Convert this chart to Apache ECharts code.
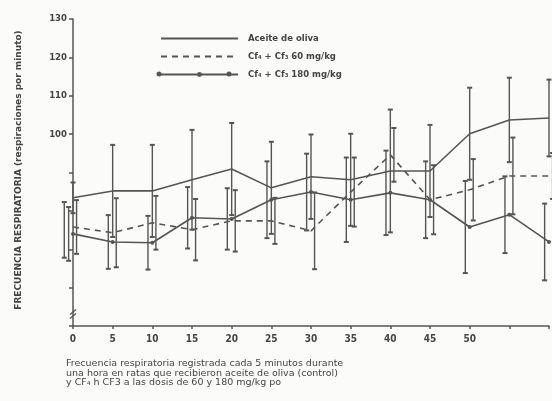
<!DOCTYPE html>
<html>
<head>
<meta charset="utf-8">
<script src="https://cdn.jsdelivr.net/npm/echarts@6/dist/echarts.min.js"></script>
<style>
  html, body { margin: 0; padding: 0; background: #fbfbf9; }
  #chart { width: 552px; height: 401px; }
</style>
</head>
<body>
<div id="chart"></div>
<script>
// minutos
const times = [0, 5, 10, 15, 20, 25, 30, 35, 40, 45, 50, 55, 60];
const xLabels = ['0', '5', '10', '15', '20', '25', '30', '35', '40', '45', '50'];

// respiraciones por minuto (media)
const aceite = [83.4, 85.2, 85.2, 88.1, 90.9, 86.0, 88.9, 88.1, 90.4, 90.4, 100.1, 103.7, 104.2];
const cf60   = [75.8, 74.3, 76.9, 75.1, 77.4, 77.4, 74.8, 84.9, 94.6, 82.9, 85.5, 89.1, 89.1];
const cf180  = [74.0, 71.9, 71.7, 78.2, 77.9, 82.9, 84.9, 82.9, 84.7, 82.9, 75.8, 79.0, 71.9];

// desviaciones (barras de error)
const aceiteSd = [4, 12, 12, 13, 12, 12, 11, 12, 16, 12, 12, 11, 10];
const cf60Sd   = [7, 9, 7, 8, 8, 6, 10, 9, 7, 9, 8, 10, 6];
const cf180Sd  = [7, 7, 7, 8, 8, 10, 10, 11, 11, 10, 12, 10, 10];

// valor basal
const basalTime = -1.1;
const basalLow = 67.8;
const basalHigh = 82.3;

const names = ['Aceite de oliva', 'Cf\u2084 + Cf\u2083 60 mg/kg', 'Cf\u2084 + Cf\u2083 180 mg/kg'];
const ink = '#555';
const font = '"DejaVu Sans", "Liberation Sans", sans-serif';
const fontNarrow = '"DejaVu Sans Condensed", "Liberation Sans", sans-serif';

function barData(mean, sd, shift) {
    let out = [];
    for (let i = 0; i < times.length; i++) {
        out.push([times[i] + shift, mean[i] - sd[i], mean[i] + sd[i]]);
    }
    return out;
}

function renderBar(params, api) {
    let x = api.value(0);
    let lo = api.coord([x, api.value(1)]);
    let hi = api.coord([x, api.value(2)]);
    let w = 2.5;
    return {
        type: 'group',
        children: [
            { type: 'line', shape: { x1: hi[0], y1: hi[1], x2: lo[0], y2: lo[1] }, style: { stroke: ink, lineWidth: 1.4 } },
            { type: 'line', shape: { x1: hi[0] - w, y1: hi[1], x2: hi[0] + w, y2: hi[1] }, style: { stroke: ink, lineWidth: 2 } },
            { type: 'line', shape: { x1: lo[0] - w, y1: lo[1], x2: lo[0] + w, y2: lo[1] }, style: { stroke: ink, lineWidth: 2 } }
        ]
    };
}

let allBars = []
    .concat(barData(aceite, aceiteSd, 0))
    .concat(barData(cf60, cf60Sd, 0.45))
    .concat(barData(cf180, cf180Sd, -0.55));
allBars.push([basalTime, basalLow, basalHigh]);

const chart = echarts.init(document.getElementById('chart'));
let option = {
    backgroundColor: '#fbfbf9',
    animation: false,
    grid: { left: 73, right: -3, top: 19, bottom: 75 },
    legend: {
        data: [
            { name: names[0], itemStyle: { opacity: 0 } },
            { name: names[1], itemStyle: { opacity: 0 } },
            { name: names[2] }
        ],
        orient: 'vertical',
        left: 155,
        top: 29,
        itemWidth: 77,
        itemHeight: 6,
        itemGap: 9,
        textStyle: { color: '#444', fontSize: 8.5, fontWeight: 'bold', fontFamily: font, padding: [0, 0, 0, 5] },
        selectedMode: false
    },
    xAxis: {
        type: 'value',
        min: 0,
        max: 60,
        interval: 5,
        axisLine: { lineStyle: { color: ink, width: 1.5 } },
        axisTick: { show: true, length: 3, lineStyle: { color: ink, width: 1.5 } },
        splitLine: { show: false },
        axisLabel: {
            color: '#444',
            fontSize: 10,
            fontWeight: 'bold',
            fontFamily: fontNarrow,
            margin: 8,
            formatter: function (v) {
                return xLabels.indexOf(String(v)) >= 0 ? String(v) : '';
            }
        }
    },
    yAxis: {
        type: 'value',
        min: 50,
        max: 130,
        interval: 10,
        axisLine: { show: true, lineStyle: { color: ink, width: 1.5 } },
        axisTick: { show: true, length: 4, lineStyle: { color: ink, width: 1.5 } },
        splitLine: { show: false },
        axisLabel: {
            color: '#444',
            fontSize: 9.5,
            fontWeight: 'bold',
            fontFamily: fontNarrow,
            margin: 6,
            formatter: function (v) { return v >= 100 ? String(v) : ''; }
        }
    },
    series: [
        {
            name: names[0], type: 'line',
            data: times.map((t, i) => [t, aceite[i]]),
            symbol: 'none',
            lineStyle: { color: ink, width: 1.6 },
            itemStyle: { color: ink },
            z: 3
        },
        {
            name: names[1], type: 'line',
            data: times.map((t, i) => [t, cf60[i]]),
            symbol: 'none',
            lineStyle: { color: ink, width: 1.6, type: [6, 5] },
            itemStyle: { color: ink },
            z: 3
        },
        {
            name: names[2], type: 'line',
            data: times.map((t, i) => [t, cf180[i]]),
            symbol: 'circle',
            symbolSize: 4,
            showAllSymbol: true,
            lineStyle: { color: ink, width: 1.6 },
            itemStyle: { color: ink },
            z: 3
        },
        {
            name: 'barras', type: 'custom',
            data: allBars,
            encode: { x: 0, y: [1, 2] },
            renderItem: renderBar,
            clip: false,
            z: 2
        }
    ]
};
chart.setOption(option);

// corte del eje y, leyenda con tres puntos, titulo del eje y pie de figura
let cut = chart.convertToPixel({ gridIndex: 0 }, [0, 53]);
chart.setOption({
    graphic: [
        { type: 'rect', shape: { x: cut[0] - 4, y: cut[1] - 4, width: 8, height: 5 }, style: { fill: '#fbfbf9' } },
        { type: 'line', shape: { x1: cut[0] - 3, y1: cut[1] + 0, x2: cut[0] + 3, y2: cut[1] - 5 }, style: { stroke: ink, lineWidth: 1.3 } },
        { type: 'line', shape: { x1: cut[0] - 3, y1: cut[1] + 4, x2: cut[0] + 3, y2: cut[1] - 1 }, style: { stroke: ink, lineWidth: 1.3 } },
        { type: 'circle', shape: { cx: 159, cy: 74, r: 2.5 }, style: { fill: ink } },
        { type: 'circle', shape: { cx: 229, cy: 74, r: 2.5 }, style: { fill: ink } },
        {
            type: 'text', x: 19, y: 170, rotation: Math.PI / 2,
            style: {
                text: 'FRECUENCIA RESPIRATORIA (respiraciones por minuto)',
                fill: '#444', font: 'bold 9px ' + font,
                align: 'center', verticalAlign: 'middle'
            }
        },
        {
            type: 'text', left: 66, top: 359,
            style: {
                text: 'Frecuencia respiratoria registrada cada 5 minutos durante\nuna hora en ratas que recibieron aceite de oliva (control)\ny CF\u2084 h CF3 a las dosis de 60 y 180 mg/kg po',
                fill: '#444', font: '9.5px ' + font, lineHeight: 9.5
            }
        }
    ]
});
</script>
</body>
</html>
